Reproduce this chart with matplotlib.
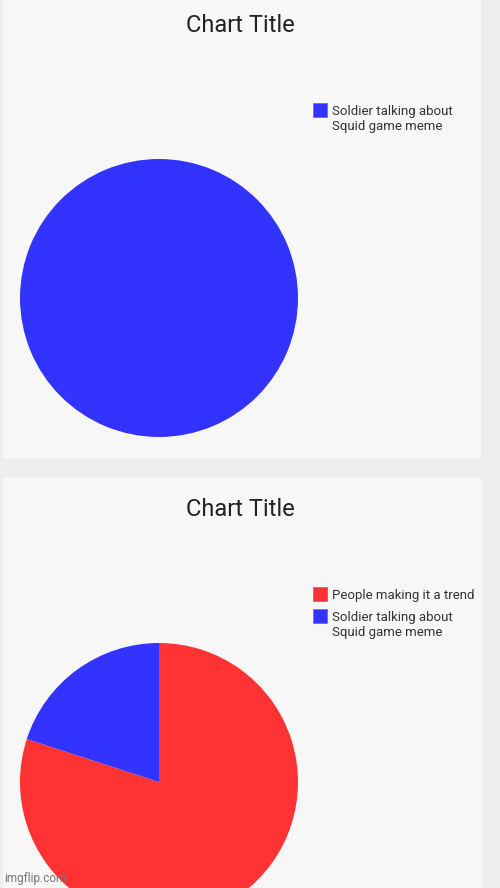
import matplotlib.pyplot as plt
from matplotlib.patches import Rectangle

# data
top_labels = ['Soldier talking about\nSquid game meme']
top_values = [100]
top_colors = ['#3333ff']

bottom_labels = ['People making it a trend', 'Soldier talking about\nSquid game meme']
bottom_values = [80, 20]
bottom_colors = ['#ff3333', '#3333ff']

W, H = 500, 888
plt.rcParams['font.family'] = ['Roboto', 'DejaVu Sans']

fig = plt.figure(figsize=(W / 100, H / 100), dpi=100)
fig.patch.set_facecolor('#eeeeee')

def px_rect(x0, y0, x1, y1):
    # image pixel box (top-left origin) -> figure fraction
    return [x0 / W, 1 - y1 / H, (x1 - x0) / W, (y1 - y0) / H]

# panels
for (x0, y0, x1, y1) in [(3, -2, 481, 458), (3, 478, 482, 890)]:
    l, b, w, h = px_rect(x0, y0, x1, y1)
    fig.patches.append(Rectangle((l, b), w, h, transform=fig.transFigure,
                                 facecolor='#f7f7f7', edgecolor='none', zorder=-5))

def draw_panel(cx, cy, r, title_y, legend_tops, values, labels, colors):
    ax = fig.add_axes(px_rect(cx - r, cy - r, cx + r, cy + r))
    ax.set_zorder(2)
    wedges, _ = ax.pie(values, colors=colors, startangle=90, counterclock=False,
                       radius=1, wedgeprops=dict(linewidth=0))
    ax.set_xlim(-1, 1)
    ax.set_ylim(-1, 1)
    ax.set_aspect('auto')
    ax.axis('off')
    fig.text(240 / W, 1 - title_y / H, 'Chart Title', ha='center', va='baseline',
             fontsize=17, color='#222222')
    # legend: square aligned with first text line
    for wedge, label, top in zip(wedges, labels, legend_tops):
        l, b, w, h = px_rect(313, top, 327, top + 14)
        fig.patches.append(Rectangle((l, b), w, h, transform=fig.transFigure,
                                     facecolor=wedge.get_facecolor(),
                                     edgecolor='#666688', linewidth=0.4, zorder=3))
        for i, line in enumerate(label.split('\n')):
            fig.text(332 / W, 1 - (top + 12 + 15 * i) / H, line, ha='left',
                     va='baseline', fontsize=9.5, color='#333333')

draw_panel(159, 298, 139, 32, [103], top_values, top_labels, top_colors)
draw_panel(159, 782, 139, 516, [587, 609], bottom_values, bottom_labels, bottom_colors)

fig.text(4 / W, 1 - 882 / H, 'imgflip.com', ha='left', va='baseline',
         fontsize=8.5, color='#777777', zorder=5)

fig.savefig('out.png', dpi=100, facecolor=fig.get_facecolor())
